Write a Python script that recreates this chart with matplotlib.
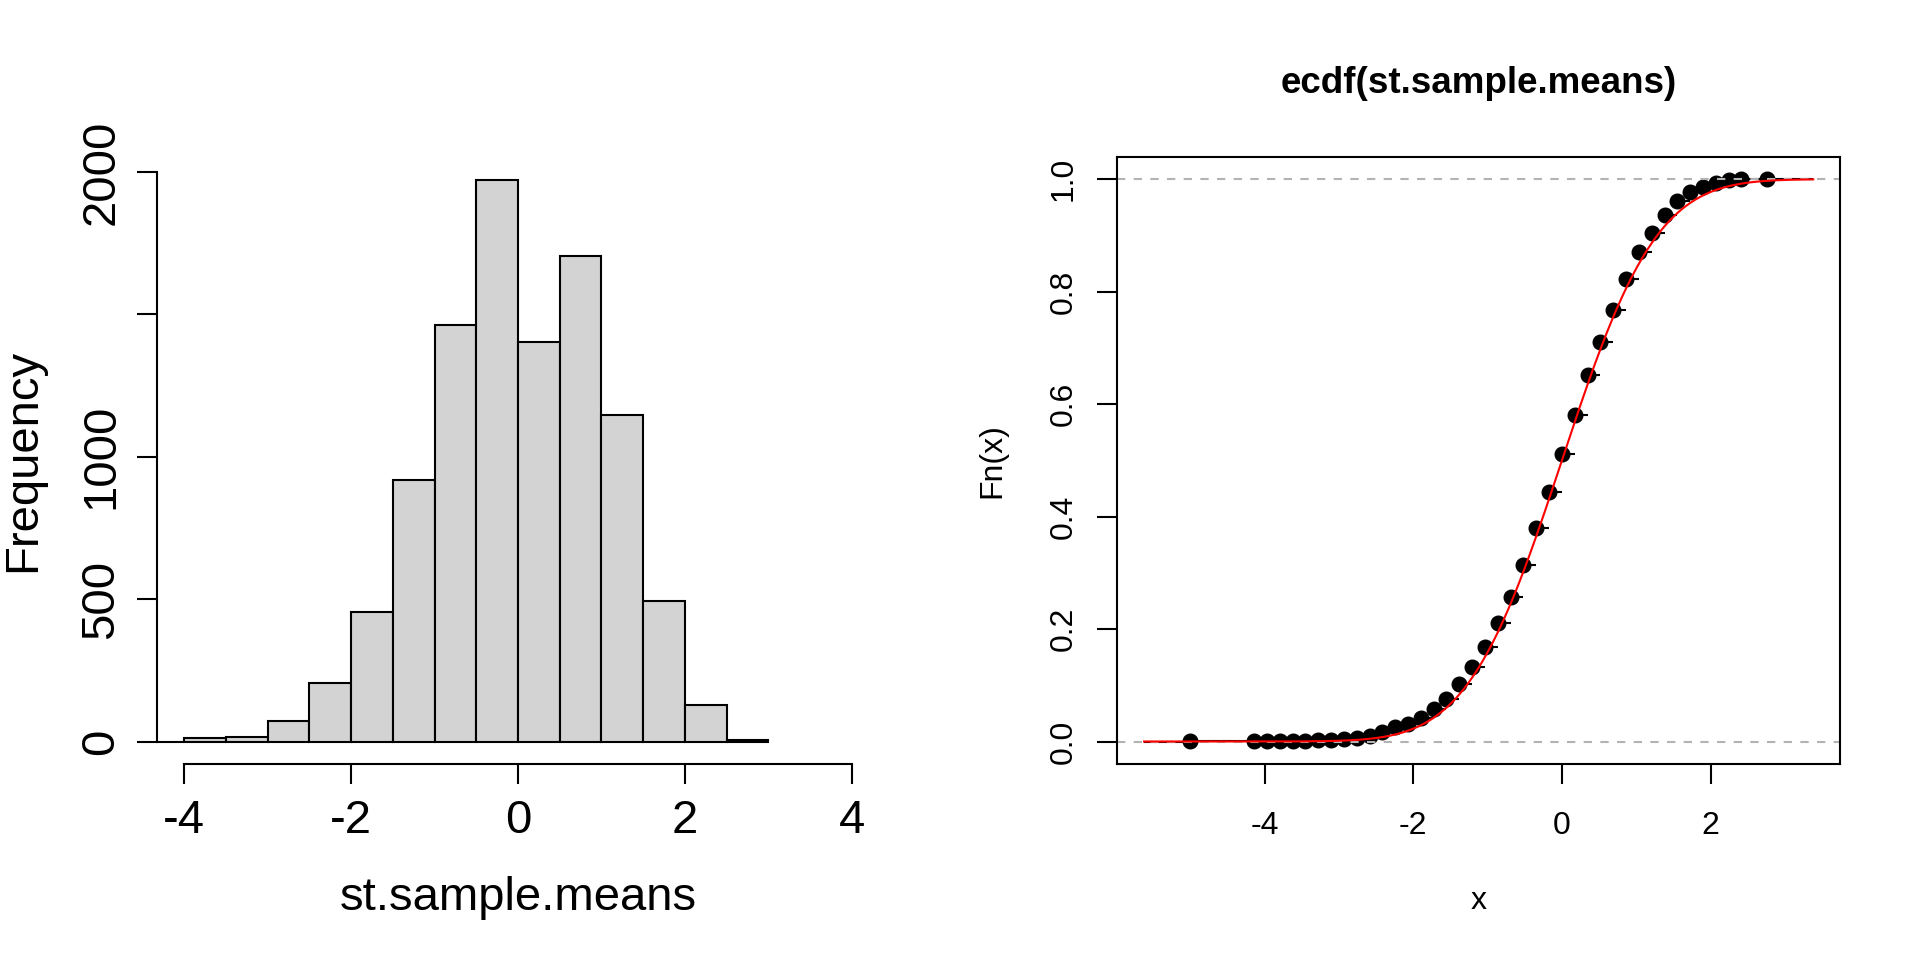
import math
import numpy as np
import matplotlib
matplotlib.use('Agg')
import matplotlib.pyplot as plt

plt.rcParams['font.family'] = ['Liberation Sans', 'DejaVu Sans']

# histogram of st.sample.means (bins of 0.5, right closed)
bin_edges = [-5.0, -4.5, -4.0, -3.5, -3.0, -2.5, -2.0, -1.5, -1.0, -0.5,
             0.0, 0.5, 1.0, 1.5, 2.0, 2.5, 3.0]
bin_counts = [1, 0, 12, 16, 73, 207, 455, 918, 1464, 1972, 1403, 1706,
              1145, 493, 130, 4]
hist_xticks = [-4, -2, 0, 2, 4]
hist_yticks = [0, 500, 1000, 1500, 2000]
hist_ylabels = ['0', '500', '1000', '', '2000']

# ecdf knots and values
knots = [-5.003, -4.14, -3.968, -3.795, -3.623, -3.45, -3.278, -3.105,
         -2.933, -2.76, -2.588, -2.415, -2.243, -2.07, -1.898, -1.725,
         -1.553, -1.38, -1.208, -1.035, -0.863, -0.69, -0.518, -0.345,
         -0.173, 0.0, 0.173, 0.345, 0.518, 0.69, 0.863, 1.035, 1.208,
         1.38, 1.553, 1.725, 1.898, 2.07, 2.243, 2.415, 2.76]
fn = [0.0001, 0.0003, 0.0006, 0.0009, 0.0013, 0.0017, 0.0022, 0.0029,
      0.0042, 0.0068, 0.0102, 0.0170, 0.0250, 0.0309, 0.0424, 0.0586,
      0.0764, 0.1020, 0.1330, 0.1682, 0.2110, 0.2570, 0.3146, 0.3790,
      0.4437, 0.5118, 0.5810, 0.6521, 0.7110, 0.7680, 0.8227, 0.8710,
      0.9050, 0.9372, 0.9610, 0.9770, 0.9865, 0.9938, 0.9977, 0.9995,
      1.0]
step_from, step_to = -5.62, 3.38
ecdf_xticks = [-4, -2, 0, 2]
ecdf_yticks = [0.0, 0.2, 0.4, 0.6, 0.8, 1.0]

fig = plt.figure(figsize=(19.2, 9.6), dpi=100)
lw = 1.5

# ---- left: histogram
ax1 = fig.add_axes([157.3 / 1920, 196 / 960, 721.4 / 1920, 606.6 / 960])
edges = np.array(bin_edges)
ax1.bar(edges[:-1], bin_counts, width=np.diff(edges), align='edge',
        color='#d3d3d3', edgecolor='black', linewidth=lw)
ax1.set_xlim(-4.32, 4.32)
ax1.set_ylim(-78.9, 2050.9)
ax1.spines['top'].set_visible(False)
ax1.spines['right'].set_visible(False)
ax1.spines['left'].set_bounds(0, 2000)
ax1.spines['bottom'].set_bounds(-4, 4)
for s in ['left', 'bottom']:
    ax1.spines[s].set_linewidth(lw)
ax1.set_xticks(hist_xticks)
ax1.set_xticklabels([str(t) for t in hist_xticks])
ax1.set_yticks(hist_yticks)
ax1.set_yticklabels(hist_ylabels, rotation=90, va='center')
ax1.tick_params(axis='x', length=14.4, width=lw, labelsize=34, pad=10.8)
ax1.tick_params(axis='y', length=14.4, width=lw, labelsize=34, pad=9.9)
ax1.text(0.5, -0.2407, 'st.sample.means', transform=ax1.transAxes,
         ha='center', va='baseline', fontsize=34)
ax1.text(-0.1695, 0.5, 'Frequency', transform=ax1.transAxes,
         ha='center', va='baseline', rotation=90, rotation_mode='anchor',
         fontsize=34)

# ---- right: ecdf
ax2 = fig.add_axes([1117.3 / 1920, 196 / 960, 722.7 / 1920, 607.3 / 960])
ax2.hlines(fn[:-1], knots[:-1], knots[1:], color='black', linewidth=lw)
ax2.hlines([0, 1], [step_from, knots[-1]], [knots[0], step_to],
           color='black', linewidth=lw)
ax2.plot(knots, fn, 'o', color='black', markersize=10.5)
ax2.axhline(0, color='#b3b3b3', linewidth=lw, dashes=(4, 4))
ax2.axhline(1, color='#b3b3b3', linewidth=lw, dashes=(4, 4))
xs = np.linspace(step_from, step_to, 400)
ax2.plot(xs, [0.5 * (1 + math.erf(v / math.sqrt(2))) for v in xs],
         color='red', linewidth=lw)
ax2.set_xlim(-5.98, 3.74)
ax2.set_ylim(-0.04, 1.04)
for s in ax2.spines.values():
    s.set_linewidth(lw)
ax2.set_xticks(ecdf_xticks)
ax2.set_xticklabels([str(t) for t in ecdf_xticks])
ax2.set_yticks(ecdf_yticks)
ax2.set_yticklabels(['%.1f' % t for t in ecdf_yticks], rotation=90,
                    va='center')
ax2.tick_params(axis='x', length=14.4, width=lw, labelsize=23, pad=19.8)
ax2.tick_params(axis='y', length=14.4, width=lw, labelsize=23, pad=13.6)
ax2.text(0.5, -0.2393, 'x', transform=ax2.transAxes,
         ha='center', va='baseline', fontsize=23)
ax2.text(-0.1623, 0.5, 'Fn(x)', transform=ax2.transAxes,
         ha='center', va='baseline', rotation=90, rotation_mode='anchor',
         fontsize=23)
ax2.text(0.5, 1.1054, 'ecdf(st.sample.means)', transform=ax2.transAxes,
         ha='center', va='baseline', fontsize=26.5, fontweight='bold')

fig.savefig('out.png', dpi=100)
